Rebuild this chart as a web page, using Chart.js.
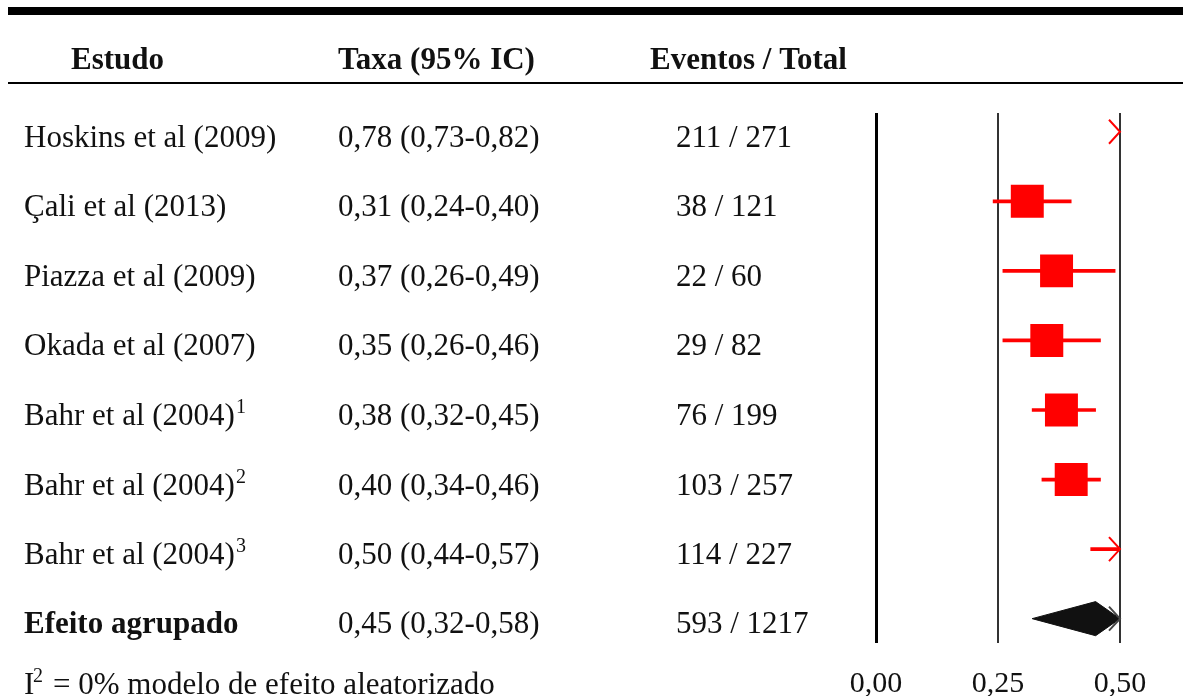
<!DOCTYPE html>
<html>
<head>
<meta charset="utf-8">
<title>Forest plot</title>
<script src="https://cdn.jsdelivr.net/npm/chart.js@4.4.1/dist/chart.umd.min.js"></script>
<style>
  html, body { margin: 0; padding: 0; background: #fff; }
  #wrap { width: 1183px; height: 696px; position: relative; }
</style>
</head>
<body>
<div id="wrap"><canvas id="forest" width="1183" height="696"></canvas></div>
<script>
// ---- data ----
const headers = ['Estudo', 'Taxa (95% IC)', 'Eventos / Total'];
const studies = ['Hoskins et al (2009)', 'Çali et al (2013)', 'Piazza et al (2009)', 'Okada et al (2007)',
                 'Bahr et al (2004)', 'Bahr et al (2004)', 'Bahr et al (2004)'];
const studyNotes = ['', '', '', '', '1', '2', '3'];
const rates = [0.78, 0.31, 0.37, 0.35, 0.38, 0.40, 0.50];
const lower = [0.73, 0.24, 0.26, 0.26, 0.32, 0.34, 0.44];
const upper = [0.82, 0.40, 0.49, 0.46, 0.45, 0.46, 0.57];
const events = [211, 38, 22, 29, 76, 103, 114];
const totals = [271, 121, 60, 82, 199, 257, 227];
const pooledLabel = 'Efeito agrupado';
const pooledRate = 0.45;
const pooledLower = 0.32;
const pooledUpper = 0.58;
const xTicks = [0, 0.25, 0.5];
const heterogeneityI2 = '0%';
const modelNote = 'modelo de efeito aleatorizado';

// ---- derived ----
const X_MIN = xTicks[0];
const X_MAX = xTicks[xTicks.length - 1];
const POOLED_ROW = studies.length;
const pooledEvents = events.reduce((a, b) => a + b, 0);
const pooledTotal = totals.reduce((a, b) => a + b, 0);
const fmt = v => v.toFixed(2).replace('.', ',');
const rateText = (r, l, u) => `${fmt(r)} (${fmt(l)}-${fmt(u)})`;

const RED = '#ff0000';
const INK = '#111111';
const SERIF = '"Liberation Serif", "Times New Roman", serif';
const DIAMOND_HALF = 0.245;   // half height of the pooled diamond, in row units

// confidence-interval whiskers (floating bars)
const ciData = studies.map((_, i) => ({ y: i, x: [lower[i], upper[i]] }));
// point estimates that fall inside the axis range
const boxData = rates.map((r, i) => ({ x: r, y: i })).filter(p => p.x >= X_MIN && p.x < X_MAX);
// pooled estimate diamond, truncated at the axis limit
const diamondRight = Math.min(pooledUpper, X_MAX);
const diamondData = [
  { x: pooledLower, y: POOLED_ROW },
  { x: pooledRate, y: POOLED_ROW - DIAMOND_HALF },
  { x: diamondRight, y: POOLED_ROW },
  { x: pooledRate, y: POOLED_ROW + DIAMOND_HALF },
  { x: pooledLower, y: POOLED_ROW }
];

// arrows for intervals that run past the right edge of the axis
const overflowRows = upper.map((u, i) => ({ row: i, over: u > X_MAX, color: RED }))
  .concat([{ row: POOLED_ROW, over: pooledUpper > X_MAX, color: '#444' }])
  .filter(r => r.over);

const tablePlugin = {
  id: 'forestTable',
  afterDraw(chart) {
    const { ctx, scales: { x, y } } = chart;
    const W = chart.width;
    ctx.save();

    // horizontal rules
    ctx.fillStyle = '#000';
    ctx.fillRect(8, 7, W - 8, 8);
    ctx.fillRect(8, 82, W - 8, 2);

    // column headers
    ctx.fillStyle = INK;
    ctx.textBaseline = 'alphabetic';
    ctx.textAlign = 'left';
    ctx.font = `bold 31px ${SERIF}`;
    ctx.fillText(headers[0], 71, 69);
    ctx.fillText(headers[1], 338, 69);
    ctx.fillText(headers[2], 650, 69);

    // study rows
    const colName = 24, colRate = 338, colEvents = 676;
    studies.forEach((name, i) => {
      const base = y.getPixelForValue(i) + 15;
      ctx.font = `31px ${SERIF}`;
      ctx.fillText(name, colName, base);
      if (studyNotes[i]) {
        const w = ctx.measureText(name).width;
        ctx.font = `20px ${SERIF}`;
        ctx.fillText(studyNotes[i], colName + w + 1, base - 12);
        ctx.font = `31px ${SERIF}`;
      }
      ctx.fillText(rateText(rates[i], lower[i], upper[i]), colRate, base);
      ctx.fillText(`${events[i]} / ${totals[i]}`, colEvents, base);
    });

    // pooled row
    const pb = y.getPixelForValue(POOLED_ROW) + 14;
    ctx.font = `bold 31px ${SERIF}`;
    ctx.fillText(pooledLabel, colName, pb);
    ctx.font = `31px ${SERIF}`;
    ctx.fillText(rateText(pooledRate, pooledLower, pooledUpper), colRate, pb);
    ctx.fillText(`${pooledEvents} / ${pooledTotal}`, colEvents, pb);

    // heterogeneity note
    ctx.fillText('I', 24, 694);
    ctx.font = `20px ${SERIF}`;
    ctx.fillText('2', 33, 682);
    ctx.font = `31px ${SERIF}`;
    ctx.fillText(`= ${heterogeneityI2} ${modelNote}`, 53, 694);

    // truncation arrows
    ctx.lineWidth = 2;
    overflowRows.forEach(r => {
      const px = x.getPixelForValue(X_MAX);
      const py = y.getPixelForValue(r.row);
      ctx.strokeStyle = r.color;
      ctx.beginPath();
      ctx.moveTo(px - 11, py - 12);
      ctx.lineTo(px, py);
      ctx.lineTo(px - 11, py + 12);
      ctx.stroke();
    });
    ctx.restore();
  }
};

new Chart(document.getElementById('forest'), {
  type: 'scatter',
  data: {
    datasets: [
      {
        type: 'bar',
        indexAxis: 'y',
        data: ciData,
        backgroundColor: RED,
        borderWidth: 0,
        barThickness: 3,
        order: 2
      },
      {
        type: 'scatter',
        data: boxData,
        pointStyle: 'rect',
        pointRadius: 23.3,
        pointHoverRadius: 23.3,
        backgroundColor: RED,
        borderWidth: 0,
        order: 1
      },
      {
        type: 'line',
        data: diamondData,
        borderColor: INK,
        backgroundColor: INK,
        borderWidth: 1,
        pointRadius: 0,
        tension: 0,
        fill: 'shape',
        order: 0
      }
    ]
  },
  options: {
    responsive: false,
    animation: false,
    events: [],
    layout: { padding: { left: 876, right: 63, top: 113, bottom: 0 } },
    plugins: { legend: { display: false }, tooltip: { enabled: false } },
    scales: {
      x: {
        type: 'linear',
        min: X_MIN,
        max: X_MAX,
        offset: false,
        afterBuildTicks: s => { s.ticks = xTicks.map(v => ({ value: v })); },
        afterFit: s => { s.height = 53; },
        border: { display: false },
        grid: {
          offset: false,
          drawTicks: false,
          color: ctx => (ctx.tick && ctx.tick.value === 0 ? '#000' : '#333'),
          lineWidth: ctx => (ctx.tick && ctx.tick.value === 0 ? 3 : 2)
        },
        ticks: {
          padding: 23,
          color: INK,
          font: { family: SERIF, size: 30 },
          maxRotation: 0,
          callback: v => fmt(v)
        }
      },
      y: {
        type: 'linear',
        display: false,
        reverse: true,
        offset: false,
        min: -0.27,
        max: 7.35
      }
    }
  },
  plugins: [tablePlugin]
});
</script>
</body>
</html>
